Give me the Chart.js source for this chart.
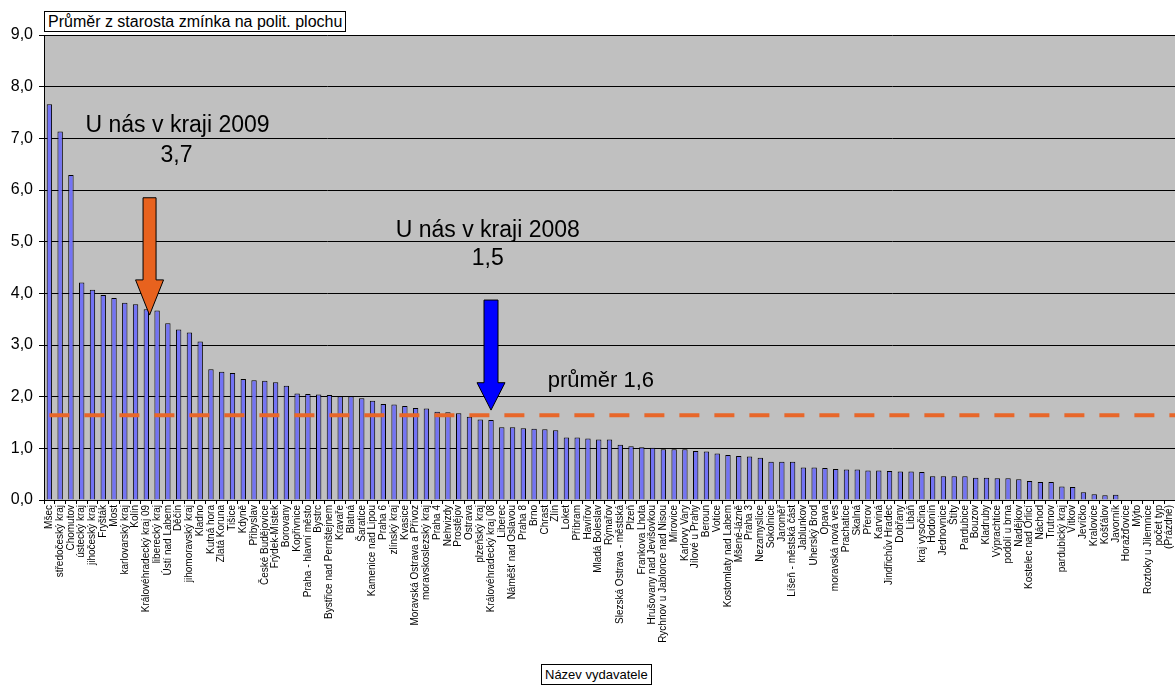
<!DOCTYPE html>
<html lang="cs">
<head>
<meta charset="utf-8">
<title>Průměr z starosta zmínka na polit. plochu</title>
<script src="https://cdn.jsdelivr.net/npm/chart.js@4/dist/chart.umd.min.js"></script>
<style>
  html, body { margin: 0; padding: 0; background: #fff; overflow: hidden; }
  body { width: 1175px; height: 685px; position: relative; font-family: "Liberation Sans", Arial, sans-serif; }
  #chart { position: absolute; left: 0; top: 0; }
  .box { position: absolute; background: #fff; border: 1px solid #000; line-height: 19px; padding: 0 3px; white-space: nowrap; color: #000; }
  #title { left: 44px; top: 11px; font-size: 16px; }
  #xtitle { left: 541px; top: 664px; font-size: 13px; }
</style>
</head>
<body>
<canvas id="chart" width="1175" height="685"></canvas>
<div class="box" id="title">Průměr z starosta zmínka na polit. plochu</div>
<div class="box" id="xtitle">Název vydavatele</div>
<script>
// Chart data
const categories = [
  'Mšec', 'středočeský kraj', 'Chomutov', 'ústecký kraj', 'jihočeský kraj', 'Fryšták', 'Most',
  'karlovarský kraj', 'Kolín', 'Královéhradecký kraj 09', 'liberecký kraj', 'Ústí nad Labem', 'Děčín',
  'jihomoravský kraj', 'Kladno', 'Kutná hora', 'Zlatá Koruna', 'Tišice', 'Kdyně', 'Přibyslav',
  'České Budějovice', 'Frýdek-Místek', 'Borovany', 'Kopřivnice', 'Praha - hlavní město', 'Bystrc',
  'Bystřice nad Pernštejnem', 'Kravaře', 'Blatná', 'Šaratice', 'Kamenice nad Lipou', 'Praha 6',
  'zlínský kraj', 'Kvasice', 'Moravská Ostrava a Přívoz', 'moravskoslezský kraj', 'Praha 4', 'Nehvizdy',
  'Prostějov', 'Ostrava', 'plzeňský kraj', 'Královéhradecký kraj 08', 'Liberec', 'Náměšť nad Oslavou',
  'Praha 8', 'Brno', 'Chrast', 'Zlín', 'Loket', 'Příbram', 'Havířov', 'Mladá Boleslav', 'Rýmařov',
  'Slezská Ostrava - městská', 'Plzeň', 'Frankova Lhota', 'Hrušovany nad Jevišovkou',
  'Rychnov u Jablonce nad Nisou', 'Mirovice', 'Karlovy Vary', 'Jílové u Prahy', 'Beroun', 'Votice',
  'Kostomlaty nad Labem', 'Mšené-lázně', 'Praha 3', 'Nezamyslice', 'Sokolnice', 'Jaroměř',
  'Líšeň - městská část', 'Jablunkov', 'Uherský Brod', 'Opava', 'moravská nová ves', 'Prachatice',
  'Skalná', 'Přerov', 'Karviná', 'Jindřichův Hradec', 'Dobřany', 'Libáň', 'kraj vysočina', 'Hodonín',
  'Jednovnice', 'Štíty', 'Pardubice', 'Bouzov', 'Kladruby', 'Výprachtice', 'podolí u brna', 'Nadějkov',
  'Kostelec nad Orlicí', 'Náchod', 'Trutnov', 'pardubický kraj', 'Vítkov', 'Jevíčko', 'Kralovice',
  'Košťálov', 'Javorník', 'Horažďovice', 'Mýto', 'Roztoky u Jilemnice', 'počet typ', '(Prázdné)'
];
const values = [
  7.66, 7.13, 6.29, 4.21, 4.07, 3.97, 3.91,
  3.82, 3.79, 3.69, 3.67, 3.42, 3.30,
  3.24, 3.07, 2.53, 2.48, 2.46, 2.34, 2.32,
  2.31, 2.28, 2.21, 2.06, 2.05, 2.04,
  2.03, 2.01, 2.01, 1.97, 1.92, 1.86,
  1.85, 1.82, 1.78, 1.77, 1.71, 1.70,
  1.68, 1.61, 1.56, 1.55, 1.41, 1.41,
  1.39, 1.38, 1.37, 1.35, 1.21, 1.21, 1.19, 1.17, 1.17,
  1.07, 1.04, 1.02, 1.01,
  0.98, 0.98, 0.98, 0.95, 0.94, 0.90,
  0.87, 0.85, 0.84, 0.82, 0.74, 0.74,
  0.74, 0.63, 0.63, 0.62, 0.60, 0.59,
  0.59, 0.57, 0.57, 0.56, 0.55, 0.55, 0.54, 0.46,
  0.46, 0.46, 0.46, 0.43, 0.43, 0.42, 0.42, 0.40,
  0.37, 0.35, 0.35, 0.26, 0.25, 0.15, 0.11,
  0.09, 0.10, 0, 0, 0, 0, 0
];
const yTicks = [0, 1, 2, 3, 4, 5, 6, 7, 8, 9];
const yTickLabels = ['0,0', '1,0', '2,0', '3,0', '4,0', '5,0', '6,0', '7,0', '8,0', '9,0'];
const average = 1.64;

// Annotations, placed in data units (category index, value)
const arrows = [
  { at: 9.3, from: 5.85, neck: 4.26, to: 3.58, shaft: 6.5, head: 14, color: '#e8621e' },
  { at: 41, from: 3.87, neck: 2.27, to: 1.74, shaft: 7, head: 14, color: '#0000ff' }
];
const notes = [
  { text: 'U nás v kraji 2009', at: 11.9, y: 7.13, size: 23 },
  { text: '3,7', at: 11.8, y: 6.55, size: 23 },
  { text: 'U nás v kraji 2008', at: 40.7, y: 5.10, size: 23 },
  { text: '1,5', at: 40.7, y: 4.55, size: 23 },
  { text: 'průměr 1,6', at: 51.2, y: 2.19, size: 22 }
];

const FONT = '"Liberation Sans", Arial, sans-serif';
Chart.defaults.font.family = FONT;
Chart.defaults.color = '#000';

const overlay = {
  id: 'overlay',
  beforeDraw(chart) {
    const { ctx, chartArea: a } = chart;
    ctx.save();
    ctx.fillStyle = '#c0c0c0';
    ctx.fillRect(a.left, a.top, a.right - a.left, a.bottom - a.top);
    ctx.restore();
  },
  afterDatasetsDraw(chart) {
    const { ctx, chartArea: a, scales: { x, y } } = chart;
    ctx.save();

    // average line
    const ya = y.getPixelForValue(average);
    ctx.strokeStyle = '#e8672a';
    ctx.lineWidth = 4;
    ctx.setLineDash([20, 15]);
    ctx.beginPath();
    ctx.moveTo(x.getPixelForValue(0), ya);
    ctx.lineTo(a.right, ya);
    ctx.stroke();
    ctx.setLineDash([]);

    // arrows
    arrows.forEach(ar => {
      const cx = x.getPixelForValue(ar.at);
      const top = y.getPixelForValue(ar.from);
      const neck = y.getPixelForValue(ar.neck);
      const tip = y.getPixelForValue(ar.to);
      ctx.beginPath();
      ctx.moveTo(cx - ar.shaft, top);
      ctx.lineTo(cx + ar.shaft, top);
      ctx.lineTo(cx + ar.shaft, neck);
      ctx.lineTo(cx + ar.head, neck);
      ctx.lineTo(cx, tip);
      ctx.lineTo(cx - ar.head, neck);
      ctx.lineTo(cx - ar.shaft, neck);
      ctx.closePath();
      ctx.fillStyle = ar.color;
      ctx.fill();
      ctx.strokeStyle = '#000';
      ctx.lineWidth = 1;
      ctx.stroke();
    });

    // texts
    ctx.fillStyle = '#000';
    ctx.textAlign = 'center';
    ctx.textBaseline = 'alphabetic';
    notes.forEach(n => {
      ctx.font = n.size + 'px ' + FONT;
      ctx.fillText(n.text, x.getPixelForValue(n.at), y.getPixelForValue(n.y));
    });
    ctx.restore();
  }
};

new Chart(document.getElementById('chart'), {
  type: 'bar',
  data: {
    labels: categories,
    datasets: [{
      data: values,
      backgroundColor: '#7373f5',
      borderColor: '#000',
      borderWidth: 1,
      barPercentage: 0.5,
      categoryPercentage: 1
    }]
  },
  options: {
    responsive: false,
    animation: false,
    devicePixelRatio: 1,
    layout: { padding: { top: 35, right: 0, left: 0, bottom: 0 } },
    plugins: { legend: { display: false }, tooltip: { enabled: false }, title: { display: false } },
    scales: {
      x: {
        offset: true,
        grid: { drawOnChartArea: false, drawTicks: true, tickLength: 4, color: '#000', offset: true },
        border: { color: '#000', width: 1 },
        ticks: { autoSkip: false, maxRotation: 90, minRotation: 90, padding: 1, font: { size: 10 } },
        afterFit(s) { s.height = 185; s.paddingLeft = 0; s.paddingRight = 0; }
      },
      y: {
        min: 0,
        max: 9,
        grid: { color: '#000', tickLength: 5 },
        border: { color: '#000', width: 1 },
        ticks: { stepSize: 1, padding: 6, font: { size: 16 }, callback: v => yTickLabels[yTicks.indexOf(v)] },
        afterFit(s) { s.width = 44; s.paddingTop = 0; s.paddingBottom = 0; }
      }
    }
  },
  plugins: [overlay]
});
</script>
</body>
</html>
